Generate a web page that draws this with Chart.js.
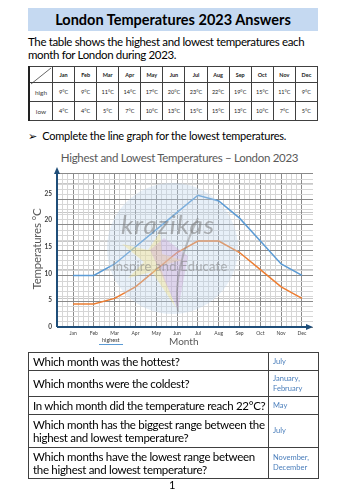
<!DOCTYPE html>
<html>
<head>
<meta charset="utf-8">
<script src="https://cdn.jsdelivr.net/npm/chart.js@4.4.0/dist/chart.umd.min.js"></script>
<style>
  body { margin: 0; width: 346px; height: 500px; background: #fff; position: relative; overflow: hidden;
         font-family: Lato, "Noto Sans", sans-serif; color: #000; }
  .abs { position: absolute; white-space: nowrap; }
  #title { left: 28px; top: 8px; width: 290px; height: 23px; line-height: 23px; background: #c5d9f1;
           font-weight: bold; font-size: 14.5px; text-align: center; }
  #intro { left: 28px; top: 35px; font-size: 11.5px; line-height: 13px; letter-spacing: -0.35px; }
  table { border-collapse: collapse; table-layout: fixed; }
  #temps { position: absolute; left: 28px; top: 66px; width: 290px; height: 55px; }
  #temps td { border: 1px solid #404040; font-size: 5.5px; text-align: center; padding: 0; color: #222; }
  #temps tr:first-child td { font-weight: bold; }
  #temps td.rowhead { font-size: 6.5px; color: #444; position: relative; border-left: 2px solid #222; }
  #bullet { left: 28px; top: 129px; font-size: 11px; letter-spacing: -0.22px; }
  #bullet span { font-family: "DejaVu Sans"; font-size: 11px; margin-right: 5px; letter-spacing: 0; }
  #chart_title { left: 0; width: 359px; top: 151px; text-align: center; font-size: 11.5px; letter-spacing: -0.3px; color: #595959; }
  #chart_box { left: 0; top: 165px; width: 346px; height: 185px; }
  #ytitle { left: 36px; top: 249px; font-size: 11.5px; letter-spacing: -0.2px; color: #595959;
            transform: translate(-50%, -50%) rotate(-90deg); }
  #xtitle { left: 169px; top: 335px; font-size: 10px; color: #595959; }
  #legend { left: 99px; top: 337px; font-size: 5.5px; color: #333; border-bottom: 1.5px solid #5b9bd5; padding: 0 3px 1px 3px; }
  #mark { left: 107px; top: 183px; width: 131px; height: 131px; border-radius: 50%;
          background: rgba(190, 212, 236, 0.35); }
  #mark_svg { left: 100px; top: 180px; }
  #mark1 { left: 121px; top: 208px; font-size: 26px; color: rgba(120,120,120,0.55); font-style: italic; letter-spacing: 1px; }
  #mark2 { left: 112px; top: 258px; font-size: 13px; color: rgba(120,120,120,0.5); letter-spacing: 0.2px; }
  #qa { position: absolute; left: 28px; top: 352px; width: 291px; }
  #qa td { border: 1.5px solid #404040; padding: 0 2px 0 4px; font-size: 11.5px; line-height: 13.5px; letter-spacing: -0.3px; white-space: nowrap; }
  #qa td.ans { color: #4a7ebb; font-size: 7.5px; line-height: 10px; letter-spacing: 0; padding-left: 4px; width: 43px; }
  #page { left: 169px; top: 478px; font-size: 11px; }
</style>
</head>
<body>
<div id="title" class="abs">London Temperatures 2023 Answers</div>
<div id="intro" class="abs">The table shows the highest and lowest temperatures each<br>month for London during 2023.</div>
<table id="temps"></table>
<div id="bullet" class="abs"><span>&#10146;</span>Complete the line graph for the lowest temperatures.</div>

<div id="chart_title" class="abs">Highest and Lowest Temperatures – London 2023</div>
<div id="chart_box" class="abs"><canvas id="lineChart"></canvas></div>
<div id="mark" class="abs"></div>
<svg id="mark_svg" class="abs" width="140" height="140">
  <polygon points="22,64 48,70 60,52 62,74 82,80 60,86 76,128 52,92 28,98 44,82" fill="rgba(250,225,120,0.35)"/>
  <polygon points="50,70 64,58 88,76 78,130" fill="rgba(200,150,210,0.3)"/>
  <path d="M78,132 Q72,90 98,38" stroke="rgba(130,130,130,0.45)" stroke-width="2" fill="none"/>
</svg>
<div id="mark1" class="abs">krazikas</div>
<div id="mark2" class="abs">Inspire and Educate</div>
<div id="ytitle" class="abs">Temperatures °C</div>
<div id="legend" class="abs">highest</div>
<div id="xtitle" class="abs">Month</div>

<table id="qa">
  <tr style="height:18px"><td>Which month was the hottest?</td><td class="ans">July</td></tr>
  <tr style="height:26px"><td>Which months were the coldest?</td><td class="ans">January,<br>February</td></tr>
  <tr style="height:18px"><td>In which month did the temperature reach 22°C?</td><td class="ans">May</td></tr>
  <tr style="height:33px"><td>Which month has the biggest range between the<br>highest and lowest temperature?</td><td class="ans">July</td></tr>
  <tr style="height:31px"><td>Which months have the lowest range between<br>the highest and lowest temperature?</td><td class="ans">November,<br>December</td></tr>
</table>
<div id="page" class="abs">1</div>

<script>
var months = ['Jan', 'Feb', 'Mar', 'Apr', 'May', 'Jun', 'Jul', 'Aug', 'Sep', 'Oct', 'Nov', 'Dec'];
var high_temps = [9, 9, 11, 14, 17, 20, 23, 22, 19, 15, 11, 9];
var low_temps = [4, 4, 5, 7, 10, 13, 15, 15, 13, 10, 7, 5];
var y_labels = [0, 5, 10, 15, 20, 25];

var build_table = function() {
  var rows = ['<tr><td class="rowhead" style="width:22px"><svg width="22" height="18" style="position:absolute;left:0;top:0">' +
    '<line x1="1" y1="17" x2="21" y2="1" stroke="#404040" stroke-width="0.8"/></svg></td>'];
  for (var i = 0; i < months.length; i++) {
    rows.push('<td>' + months[i] + '</td>');
  }
  rows.push('</tr><tr><td class="rowhead">high</td>');
  for (var i = 0; i < high_temps.length; i++) {
    rows.push('<td>' + high_temps[i] + '°C</td>');
  }
  rows.push('</tr><tr><td class="rowhead">low</td>');
  for (var i = 0; i < low_temps.length; i++) {
    rows.push('<td>' + low_temps[i] + '°C</td>');
  }
  rows.push('</tr>');
  document.getElementById('temps').innerHTML = rows.join('');
};

var to_points = function(list) {
  return list.map(function(v, i) { return { x: i, y: v }; });
};

// graph paper: one square is a quarter month across and one unit up
var paper_x = [];
for (var k = -3; k <= 44; k++) paper_x.push({ value: k / 4 });
var paper_y = [];
for (var k = 0; k <= 30; k++) paper_y.push({ value: k });

var axis_arrows = {
  id: 'axis_arrows',
  afterDraw: function(chart) {
    var c = chart.ctx, a = chart.chartArea;
    c.save();
    c.strokeStyle = '#1f4e79';
    c.fillStyle = '#1f4e79';
    c.lineWidth = 2;
    c.beginPath();
    c.moveTo(a.left, a.bottom);
    c.lineTo(a.left, a.top - 2);
    c.moveTo(a.left, a.bottom);
    c.lineTo(a.right - 4, a.bottom);
    c.stroke();
    c.beginPath();
    c.moveTo(a.left, a.top - 7);
    c.lineTo(a.left - 3, a.top);
    c.lineTo(a.left + 3, a.top);
    c.closePath();
    c.fill();
    c.beginPath();
    c.moveTo(a.right, a.bottom);
    c.lineTo(a.right - 7, a.bottom - 3);
    c.lineTo(a.right - 7, a.bottom + 3);
    c.closePath();
    c.fill();
    c.restore();
  }
};

var zero_width = function(scale) { scale.width = 0; };
var zero_height = function(scale) { scale.height = 0; };

var init_chart = function() {
  var ctx = document.getElementById('lineChart').getContext('2d');
  new Chart(ctx, {
    type: 'line',
    data: {
      datasets: [
        { label: 'highest', data: to_points(high_temps), borderColor: '#5b9bd5', borderWidth: 1.5,
          pointRadius: 0, tension: 0, yAxisID: 'y', xAxisID: 'x' },
        { label: 'lowest', data: to_points(low_temps), borderColor: '#ed7d31', borderWidth: 1.5,
          pointRadius: 0, tension: 0, yAxisID: 'y', xAxisID: 'x' }
      ]
    },
    options: {
      responsive: true,
      maintainAspectRatio: false,
      animation: false,
      layout: { padding: { left: 0, right: 33, top: 7, bottom: 0 } },
      plugins: { legend: { display: false }, tooltip: { enabled: false } },
      scales: {
        yLabel: {
          type: 'linear', position: 'left', min: 0, max: 28.7,
          afterFit: function(s) { s.width = 57; },
          afterBuildTicks: function(s) { s.ticks = y_labels.map(function(v) { return { value: v }; }); },
          border: { display: false },
          grid: { display: false, drawTicks: false },
          ticks: { padding: 5, color: '#404040', font: { family: 'Lato', size: 6.5, weight: 'bold' } }
        },
        y: {
          type: 'linear', position: 'left', min: 0, max: 26.72,
          afterFit: zero_width,
          afterBuildTicks: function(s) { s.ticks = [5, 10, 15, 20, 25].map(function(v) { return { value: v }; }); },
          ticks: { display: false },
          border: { display: false },
          grid: { color: '#c8c8c8', lineWidth: 1, drawTicks: false }
        },
        xPaper: {
          type: 'linear', position: 'bottom', min: -0.77, max: 11.53,
          afterFit: zero_height,
          afterBuildTicks: function(s) { s.ticks = paper_x.slice(); },
          ticks: { display: false },
          border: { display: false },
          grid: {
            drawTicks: false, lineWidth: 1,
            color: function(c) { return c.tick.value % 1 === 0 ? '#8a8a8a' : '#d6d6d6'; }
          }
        },
        yPaper: {
          type: 'linear', position: 'left', min: 0, max: 30,
          afterFit: zero_width,
          afterBuildTicks: function(s) { s.ticks = paper_y.slice(); },
          ticks: { display: false },
          border: { display: false },
          grid: {
            drawTicks: false, lineWidth: 1,
            color: function(c) { return c.tick.value % 5 === 0 ? '#8a8a8a' : '#d6d6d6'; }
          }
        },
        x: {
          type: 'linear', position: 'bottom', min: -0.77, max: 11.53,
          afterFit: function(s) { s.height = 23; },
          afterBuildTicks: function(s) { s.ticks = months.map(function(m, i) { return { value: i }; }); },
          border: { display: false },
          grid: { display: false, drawTicks: false },
          ticks: {
            autoSkip: false, maxRotation: 0, minRotation: 0, padding: 3, color: '#404040',
            font: { family: 'Lato', size: 5 },
            callback: function(v) { return months[v]; }
          }
        }
      }
    },
    plugins: [axis_arrows]
  });
};

build_table();
init_chart();
</script>
</body>
</html>
